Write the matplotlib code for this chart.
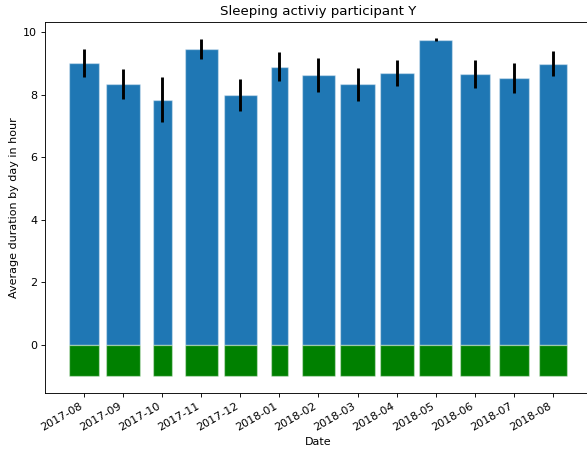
import matplotlib
matplotlib.use("Agg")
import matplotlib.pyplot as plt
import numpy as np

months = ["2017-08", "2017-09", "2017-10", "2017-11", "2017-12", "2018-01",
          "2018-02", "2018-03", "2018-04", "2018-05", "2018-06", "2018-07", "2018-08"]
avg_sleep = [9.01, 8.34, 7.83, 9.47, 7.98, 8.89, 8.63, 8.33, 8.69, 9.76, 8.65, 8.53, 8.99]
sleep_err = [0.46, 0.49, 0.72, 0.32, 0.52, 0.46, 0.55, 0.52, 0.43, 0.05, 0.44, 0.48, 0.39]
bar_widths = [0.75, 0.87, 0.49, 0.85, 0.85, 0.44, 0.87, 0.88, 0.87, 0.85, 0.78, 0.76, 0.70]
marker_height = [1] * len(months)

DPI = 80
fig = plt.figure(figsize=(587 / DPI, 450 / DPI), dpi=DPI)
ax = fig.add_axes([45/587, 1 - 393/450, (592 - 45)/587, (393 - 22)/450])

x = np.arange(len(months))
ax.bar(x, avg_sleep, width=bar_widths, color="#1f77b4",
       edgecolor=(1, 1, 1, 0.4), linewidth=1.2,
       yerr=sleep_err, error_kw=dict(ecolor="black", elinewidth=2.6, capsize=0))
ax.bar(x, marker_height, bottom=-1, width=bar_widths, color="green",
       edgecolor=(1, 1, 1, 0.4), linewidth=1.2)

ax.set_xlim(-1.0, 13.0)
ax.set_ylim(-1.54, 10.32)
ax.set_xticks(x)
ax.set_xticklabels(months, rotation=30, ha="right")
ax.set_yticks([0, 2, 4, 6, 8, 10])
ax.set_xlabel("Date")
ax.set_ylabel("Average duration by day in hour")
ax.set_title("Sleeping activiy participant Y")

fig.savefig("out.png", dpi=DPI)
